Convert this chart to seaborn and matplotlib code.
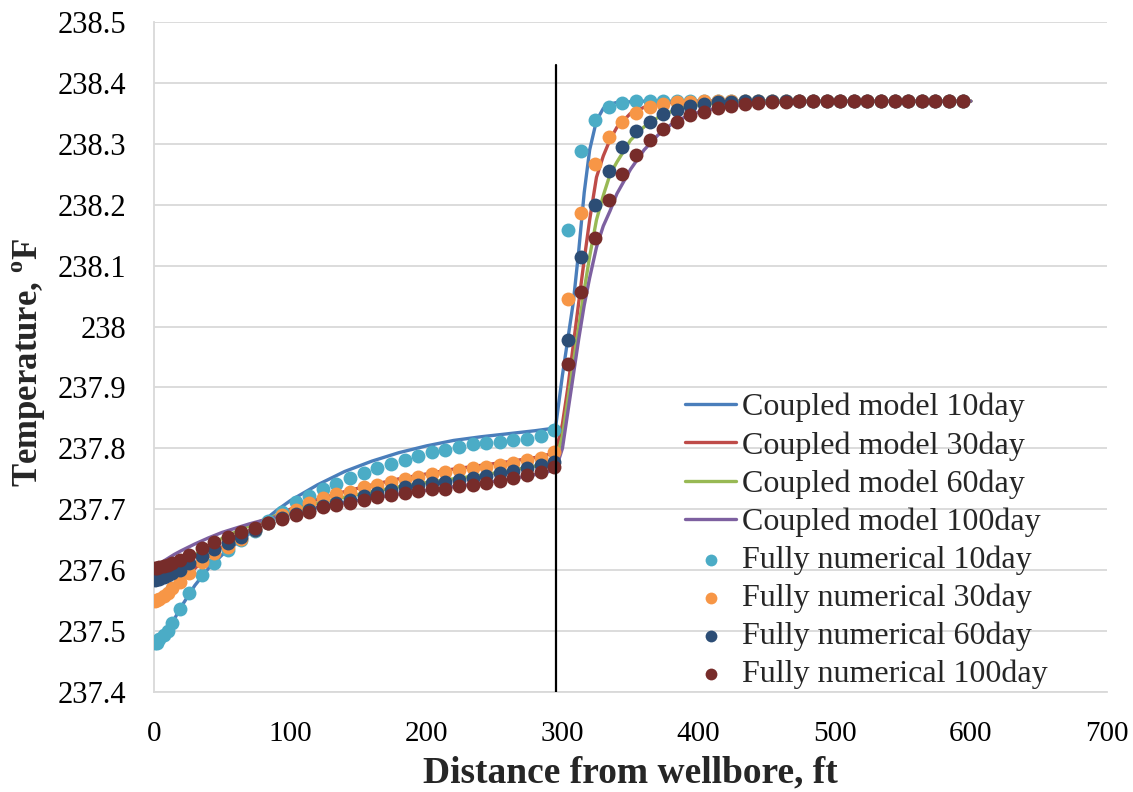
import matplotlib
matplotlib.use("Agg")
import matplotlib.pyplot as plt
import seaborn as sns
import pandas as pd
import numpy as np
from matplotlib.ticker import FixedLocator, FuncFormatter

# ---------------- data ----------------
line_x = [0, 2, 5, 10, 15, 20, 30, 40, 50, 60, 70, 80, 90, 100, 120, 140, 160, 180, 200, 220,
          240, 260, 280, 290, 295, 300, 304, 308, 312, 316, 320, 325, 330, 335, 340, 350, 360,
          370, 380, 390, 400, 420, 440, 460, 500, 550, 600]

coupled_10 = [237.478, 237.482, 237.490, 237.503, 237.520, 237.540, 237.575, 237.603, 237.625, 237.643,
              237.660, 237.680, 237.698, 237.714, 237.740, 237.762, 237.779, 237.793, 237.804, 237.813,
              237.819, 237.824, 237.829, 237.832, 237.835, 237.920, 237.980, 238.040, 238.125, 238.220,
              238.290, 238.338, 238.358, 238.365, 238.368, 238.369, 238.370, 238.370, 238.370, 238.370,
              238.370, 238.370, 238.370, 238.370, 238.370, 238.370, 238.370]
coupled_30 = [237.550, 237.551, 237.555, 237.563, 237.572, 237.583, 237.603, 237.622, 237.638, 237.652,
              237.665, 237.678, 237.690, 237.700, 237.716, 237.729, 237.740, 237.750, 237.758, 237.766,
              237.772, 237.778, 237.785, 237.790, 237.793, 237.840, 237.900, 237.970, 238.040, 238.110,
              238.175, 238.245, 238.280, 238.307, 238.327, 238.350, 238.360, 238.365, 238.368, 238.369,
              238.370, 238.370, 238.370, 238.370, 238.370, 238.370, 238.370]
coupled_60 = [237.585, 237.586, 237.589, 237.595, 237.602, 237.610, 237.625, 237.640, 237.652, 237.663,
              237.673, 237.682, 237.690, 237.697, 237.710, 237.720, 237.729, 237.737, 237.744, 237.750,
              237.756, 237.763, 237.771, 237.776, 237.780, 237.820, 237.880, 237.940, 238.000, 238.060,
              238.115, 238.175, 238.215, 238.250, 238.270, 238.306, 238.328, 238.343, 238.353, 238.360,
              238.364, 238.368, 238.369, 238.370, 238.370, 238.370, 238.370]
coupled_100 = [237.605, 237.607, 237.612, 237.619, 237.626, 237.632, 237.643, 237.653, 237.662, 237.669,
               237.676, 237.682, 237.688, 237.693, 237.703, 237.711, 237.718, 237.725, 237.731, 237.737,
               237.743, 237.749, 237.757, 237.762, 237.765, 237.800, 237.860, 237.920, 237.980, 238.035,
               238.080, 238.130, 238.165, 238.190, 238.218, 238.258, 238.290, 238.314, 238.332, 238.344,
               238.352, 238.361, 238.366, 238.368, 238.370, 238.370, 238.370]

num_x = [0.5, 2, 4, 7, 10, 13, 19, 26, 35, 44, 54, 64, 74, 84, 94, 104, 114, 124, 134, 144,
         154, 164, 174, 184, 194, 204, 214, 224, 234, 244, 254, 264, 274, 284, 294, 304, 314, 324,
         334, 344, 354, 364, 374, 384, 394, 404, 414, 424, 434, 444, 454, 464, 474, 484, 494, 504,
         514, 524, 534, 544, 554, 564, 574, 584, 594]

numerical_10 = [237.480, 237.481, 237.487, 237.493, 237.500, 237.514, 237.537, 237.562, 237.592, 237.612,
                237.633, 237.649, 237.665, 237.680, 237.695, 237.712, 237.722, 237.733, 237.741, 237.752,
                237.760, 237.768, 237.774, 237.781, 237.787, 237.794, 237.798, 237.803, 237.807, 237.809,
                237.811, 237.813, 237.816, 237.821, 237.830, 238.158, 238.289, 238.339, 238.360, 238.367,
                238.370, 238.370, 238.370, 238.370, 238.370, 238.370, 238.370, 238.370, 238.370, 238.370,
                238.370, 238.370, 238.370, 238.370, 238.370, 238.370, 238.370, 238.370, 238.370, 238.370,
                238.370, 238.370, 238.370, 238.370, 238.370]
numerical_30 = [237.550, 237.551, 237.553, 237.557, 237.563, 237.570, 237.580, 237.595, 237.614, 237.628,
                237.638, 237.651, 237.666, 237.678, 237.690, 237.699, 237.710, 237.718, 237.725, 237.729,
                237.736, 237.740, 237.745, 237.749, 237.753, 237.758, 237.762, 237.765, 237.767, 237.770,
                237.773, 237.776, 237.781, 237.785, 237.794, 238.046, 238.187, 238.267, 238.311, 238.336,
                238.351, 238.360, 238.365, 238.368, 238.369, 238.370, 238.370, 238.370, 238.370, 238.370,
                238.370, 238.370, 238.370, 238.370, 238.370, 238.370, 238.370, 238.370, 238.370, 238.370,
                238.370, 238.370, 238.370, 238.370, 238.370]
numerical_60 = [237.584, 237.585, 237.586, 237.589, 237.592, 237.595, 237.600, 237.611, 237.624, 237.635,
                237.645, 237.655, 237.666, 237.678, 237.686, 237.693, 237.699, 237.705, 237.711, 237.716,
                237.721, 237.726, 237.732, 237.736, 237.740, 237.743, 237.745, 237.748, 237.751, 237.755,
                237.759, 237.763, 237.767, 237.773, 237.778, 237.978, 238.114, 238.199, 238.256, 238.294,
                238.321, 238.336, 238.349, 238.355, 238.362, 238.366, 238.368, 238.369, 238.370, 238.370,
                238.370, 238.370, 238.370, 238.370, 238.370, 238.370, 238.370, 238.370, 238.370, 238.370,
                238.370, 238.370, 238.370, 238.370, 238.370]
numerical_100 = [237.603, 237.604, 237.605, 237.607, 237.609, 237.611, 237.617, 237.625, 237.636, 237.647,
                 237.654, 237.663, 237.669, 237.678, 237.684, 237.690, 237.696, 237.703, 237.707, 237.711,
                 237.715, 237.720, 237.723, 237.726, 237.730, 237.733, 237.734, 237.738, 237.740, 237.743,
                 237.746, 237.751, 237.756, 237.762, 237.770, 237.938, 238.056, 238.145, 238.207, 238.250,
                 238.282, 238.307, 238.324, 238.336, 238.347, 238.353, 238.358, 238.362, 238.365, 238.367,
                 238.368, 238.369, 238.370, 238.370, 238.370, 238.370, 238.370, 238.370, 238.370, 238.370,
                 238.370, 238.370, 238.370, 238.370, 238.370]

fault_x = [295, 295]
fault_y = [237.4, 238.43]

line_labels = ["Coupled model 10day", "Coupled model 30day", "Coupled model 60day", "Coupled model 100day"]
num_labels = ["Fully numerical 10day", "Fully numerical 30day", "Fully numerical 60day", "Fully numerical 100day"]
line_colors = ["#4A7EBB", "#BE4B48", "#98B954", "#7D60A0"]
num_colors = ["#4BACC6", "#F79646", "#2C4D75", "#772C2A"]

y_ticks = [237.4, 237.5, 237.6, 237.7, 237.8, 237.9, 238.0, 238.1, 238.2, 238.3, 238.4, 238.5]
x_ticks = [0, 100, 200, 300, 400, 500, 600, 700]

# ---------------- plot ----------------
sns.set_style("white")
plt.rcParams["font.family"] = ["Liberation Serif", "DejaVu Serif"]
plt.rcParams["mathtext.fontset"] = "custom"
plt.rcParams["mathtext.rm"] = "Liberation Serif"
plt.rcParams["mathtext.bf"] = "Liberation Serif:bold"

fig = plt.figure(figsize=(11.33, 7.92), dpi=100)
ax = fig.add_axes([154 / 1133, 100 / 792, (1107 - 154) / 1133, (692 - 22) / 792])

for ys, lab, col in zip([coupled_10, coupled_30, coupled_60, coupled_100], line_labels, line_colors):
    df = pd.DataFrame({"x": line_x, "y": ys})
    sns.lineplot(data=df, x="x", y="y", ax=ax, color=col, linewidth=2.4, label=lab,
                 sort=False, estimator=None, zorder=3)

for ys, lab, col in zip([numerical_10, numerical_30, numerical_60, numerical_100], num_labels, num_colors):
    df = pd.DataFrame({"x": num_x, "y": ys})
    sns.scatterplot(data=df, x="x", y="y", ax=ax, color=col, s=100, linewidth=0,
                    label=lab, zorder=4)

ax.plot(fault_x, fault_y, color="black", linewidth=1.6, zorder=5)

ax.set_xlim(0, 700)
ax.set_ylim(237.4, 238.5)
ax.xaxis.set_major_locator(FixedLocator(x_ticks))
ax.yaxis.set_major_locator(FixedLocator(y_ticks))
ax.yaxis.set_major_formatter(FuncFormatter(lambda v, p: f"{round(v, 1):g}"))
ax.xaxis.set_major_formatter(FuncFormatter(lambda v, p: f"{int(round(v))}"))
ax.tick_params(axis="both", length=0, colors="black")
ax.tick_params(axis="y", pad=20, labelsize=22)
ax.tick_params(axis="x", pad=21, labelsize=21)

ax.grid(axis="y", color="#D9D9D9", linewidth=1.3, zorder=0)
ax.grid(axis="x", visible=False)
for side in ["top", "right"]:
    ax.spines[side].set_visible(False)
for side in ["left", "bottom"]:
    ax.spines[side].set_color("#D9D9D9")
    ax.spines[side].set_linewidth(1.3)

ax.set_xlabel("Distance from wellbore, ft", fontsize=27, fontweight="bold")
ax.set_ylabel(r"Temperature, $^{\mathbf{o}}$F", fontsize=25, fontweight="bold")
ax.xaxis.set_label_coords(0.5, (692 - 755) / 670)
ax.yaxis.set_label_coords((48 - 154) / 953, (692 - 362) / 670)

handles, labels = ax.get_legend_handles_labels()
order = line_labels + num_labels
hmap = dict(zip(labels, handles))
leg = ax.legend([hmap[l] for l in order], order, loc="upper left",
                bbox_to_anchor=((685 - 154) / 953, (692 - 393) / 670),
                frameon=False, fontsize=23, handlelength=1.6, handletextpad=0.2,
                labelspacing=0.27, borderpad=0, borderaxespad=0, markerscale=0.85)

fig.savefig("out.png", dpi=100)
